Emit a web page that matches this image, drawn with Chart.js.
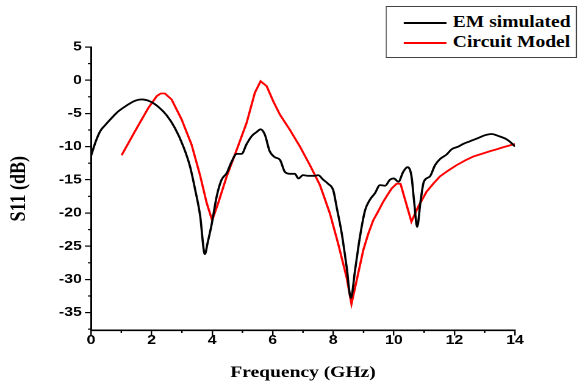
<!DOCTYPE html>
<html>
<head>
<meta charset="utf-8">
<title>S11 vs Frequency</title>
<script src="https://cdn.jsdelivr.net/npm/chart.js@4.4.0/dist/chart.umd.min.js"></script>
<style>
  html, body { margin: 0; padding: 0; background: #fff; overflow: hidden; }
  /* The figure is laid out on a narrower stage and widened horizontally. */
  #stage { position: absolute; left: 0; top: 0; width: 478px; height: 383px;
           transform: scaleX(1.22); transform-origin: 0 0; }
  #plot { position: absolute; left: 0; top: 0; }
  #legend { position: absolute; left: 316.4px; top: 6px; width: 157px; height: 52px;
            box-sizing: border-box; border: 1px solid #444; background: #fff; }
  #legend .row { position: absolute; left: 0; right: 0; height: 20px; }
  #legend .swatch { position: absolute; left: 13.6px; top: 9px; width: 35px; height: 2px; }
  #legend .label { position: absolute; left: 53.8px; top: 0; line-height: 20px; white-space: nowrap;
                   font: bold 16px "Liberation Serif", "Times New Roman", serif; color: #000; }
</style>
</head>
<body>
<div id="stage">
  <canvas id="plot" width="478" height="383"></canvas>
  <div id="legend"></div>
</div>
<script>
// Series names and colours
const seriesNames = ['EM simulated', 'Circuit Model'];
const seriesColors = ['#000000', '#ff0000'];

// EM simulated response: frequency (GHz) and S11 (dB)
const emFreq = [0.00, 0.15, 0.30, 0.46, 0.68, 0.90, 1.18, 1.45, 1.67, 1.95,
                2.22, 2.50, 2.77, 3.05, 3.27, 3.43, 3.60, 3.76, 3.85, 3.98,
                4.15, 4.31, 4.48, 4.64, 4.81, 4.97, 5.14, 5.31, 5.47, 5.60,
                5.74, 5.90, 6.07, 6.24, 6.40, 6.57, 6.73, 6.85, 7.00, 7.17,
                7.40, 7.50, 7.67, 7.83, 8.00, 8.11, 8.28, 8.44, 8.58, 8.72,
                8.88, 9.05, 9.21, 9.38, 9.54, 9.71, 9.87, 10.00, 10.15, 10.31,
                10.45, 10.58, 10.67, 10.77, 10.88, 10.99, 11.19, 11.36, 11.52, 11.74,
                11.91, 12.13, 12.29, 12.51, 12.79, 13.00, 13.23, 13.45, 13.72, 13.89, 14.00];
const emS11 = [-11.4, -9.3, -7.7, -6.8, -5.7, -4.7, -3.8, -3.1, -2.9, -3.2,
               -4.0, -5.3, -7.2, -10.0, -13.0, -16.3, -20.3, -26.2, -24.5, -21.8,
               -17.5, -15.0, -14.0, -12.3, -11.1, -11.1, -9.6, -8.4, -7.8, -7.4,
               -8.2, -10.7, -11.6, -12.0, -13.8, -14.1, -14.1, -14.8, -14.3, -14.4,
               -14.4, -14.3, -15.0, -15.6, -16.6, -19.1, -23.1, -28.1, -32.8, -28.6,
               -23.6, -19.6, -18.0, -17.0, -15.8, -15.9, -15.0, -14.8, -15.3, -13.8,
               -13.1, -14.4, -18.3, -22.1, -18.3, -15.3, -14.5, -12.8, -11.9, -11.2,
               -10.4, -10.0, -9.6, -9.2, -8.7, -8.3, -8.1, -8.4, -8.9, -9.5, -10.0];

// Circuit model response: frequency (GHz) and S11 (dB)
const cmFreq = [1.01, 1.45, 1.89, 2.17, 2.30, 2.44, 2.66, 2.99, 3.32, 3.60,
                3.82, 4.00, 4.20, 4.48, 4.81, 5.14, 5.41, 5.60, 5.80, 6.02,
                6.24, 6.57, 6.90, 7.23, 7.56, 7.89, 8.16, 8.44, 8.60, 8.77,
                8.99, 9.15, 9.32, 9.50, 9.65, 9.80, 9.93, 10.09, 10.22, 10.58,
                10.80, 11.08, 11.30, 11.52, 11.80, 12.07, 12.35, 12.62, 12.90, 13.17,
                13.40, 13.61, 13.80, 14.00];
const cmS11 = [-11.3, -7.7, -4.2, -2.4, -2.0, -2.0, -2.9, -5.9, -9.7, -14.3,
               -18.5, -21.1, -18.5, -14.5, -10.5, -6.4, -1.9, -0.15, -0.9, -3.2,
               -5.2, -7.5, -10.0, -12.8, -15.8, -20.1, -24.6, -29.7, -33.7, -30.2,
               -25.6, -23.2, -21.1, -19.6, -18.3, -17.2, -16.3, -15.6, -15.6, -21.3,
               -19.1, -16.8, -15.6, -14.5, -13.6, -12.8, -12.1, -11.5, -11.1, -10.7,
               -10.4, -10.1, -9.85, -9.6];

// Axis ranges and tick spacing
const xRange = [0, 14];
const yRange = [-37.7, 5];
const xMajorStep = 2, xMinorStep = 1;
const yMajorStep = 5, yMinorStep = 2.5;

const toPoints = (xs, ys) => xs.map((x, i) => ({ x: x, y: ys[i] }));
const isMultiple = (v, step) => Math.abs(v / step - Math.round(v / step)) < 1e-6;

// Short minor tick marks between the labelled ticks
const minorTicks = {
  id: 'minorTicks',
  afterDraw(chart) {
    const ctx = chart.ctx;
    const xs = chart.scales.x, ys = chart.scales.y;
    ctx.save();
    ctx.strokeStyle = '#000';
    ctx.lineWidth = 1.2;
    ys.ticks.forEach(t => {
      if (isMultiple(t.value, yMajorStep)) return;
      const py = ys.getPixelForValue(t.value);
      ctx.beginPath(); ctx.moveTo(ys.right - 2.5, py); ctx.lineTo(ys.right, py); ctx.stroke();
    });
    xs.ticks.forEach(t => {
      if (isMultiple(t.value, xMajorStep)) return;
      const px = xs.getPixelForValue(t.value);
      ctx.beginPath(); ctx.moveTo(px, xs.top); ctx.lineTo(px, xs.top + 2.5); ctx.stroke();
    });
    ctx.restore();
  }
};

const tickFont = { family: '"Liberation Sans", Arial, sans-serif', weight: 'bold', size: 13 };

const chart = new Chart(document.getElementById('plot'), {
  type: 'line',
  data: {
    datasets: [
      { label: seriesNames[0], data: toPoints(emFreq, emS11), borderColor: seriesColors[0],
        backgroundColor: seriesColors[0], borderWidth: 1.8, pointRadius: 0,
        cubicInterpolationMode: 'monotone', fill: false },
      { label: seriesNames[1], data: toPoints(cmFreq, cmS11), borderColor: seriesColors[1],
        backgroundColor: seriesColors[1], borderWidth: 1.8, pointRadius: 0,
        tension: 0, fill: false }
    ]
  },
  options: {
    responsive: false,
    devicePixelRatio: 2,
    animation: false,
    layout: { padding: { left: 0, top: 47, right: 55.9, bottom: 0 } },
    plugins: { legend: { display: false }, tooltip: { enabled: false } },
    scales: {
      x: {
        type: 'linear', min: xRange[0], max: xRange[1],
        afterFit: s => { s.height = 52.5; },
        border: { display: true, color: '#000', width: 1.6 },
        grid: { drawOnChartArea: false, drawTicks: true, tickLength: 5, lineWidth: 1.2,
                tickColor: c => isMultiple(c.tick.value, xMajorStep) ? '#000' : 'rgba(0,0,0,0)' },
        ticks: { stepSize: xMinorStep, autoSkip: false, maxRotation: 0, padding: -3,
                 color: '#000', font: tickFont,
                 callback: v => isMultiple(v, xMajorStep) ? String(v) : '' },
        title: { display: true, text: 'Frequency (GHz)', color: '#000',
                 font: { family: '"Liberation Serif", "Times New Roman", serif', weight: 'bold', size: 16 },
                 padding: { top: 0, bottom: 0.6 } }
      },
      y: {
        type: 'linear', min: yRange[0], max: yRange[1],
        afterFit: s => { s.width = 74.6; },
        border: { display: true, color: '#000', width: 1.5 },
        grid: { drawOnChartArea: false, drawTicks: true, tickLength: 5, lineWidth: 1.2,
                tickColor: c => isMultiple(c.tick.value, yMajorStep) ? '#000' : 'rgba(0,0,0,0)' },
        ticks: { stepSize: yMinorStep, includeBounds: false, autoSkip: false, padding: 2.5,
                 color: '#000', font: tickFont,
                 callback: v => isMultiple(v, yMajorStep) ? String(v) : '' },
        title: { display: true, text: 'S11 (dB)', color: '#000',
                 font: { family: '"Liberation Serif", "Times New Roman", serif', weight: 'bold', size: 18 },
                 padding: { top: 4.8, bottom: 0 } }
      }
    }
  },
  plugins: [minorTicks]
});

// Legend box built from the chart's datasets
const legend = document.getElementById('legend');
chart.data.datasets.forEach((ds, i) => {
  const row = document.createElement('div');
  row.className = 'row';
  row.style.top = (6.3 + 20 * i) + 'px';
  const sw = document.createElement('span');
  sw.className = 'swatch';
  sw.style.background = ds.borderColor;
  const lb = document.createElement('span');
  lb.className = 'label';
  lb.textContent = ds.label;
  row.appendChild(sw);
  row.appendChild(lb);
  legend.appendChild(row);
});
</script>
</body>
</html>
